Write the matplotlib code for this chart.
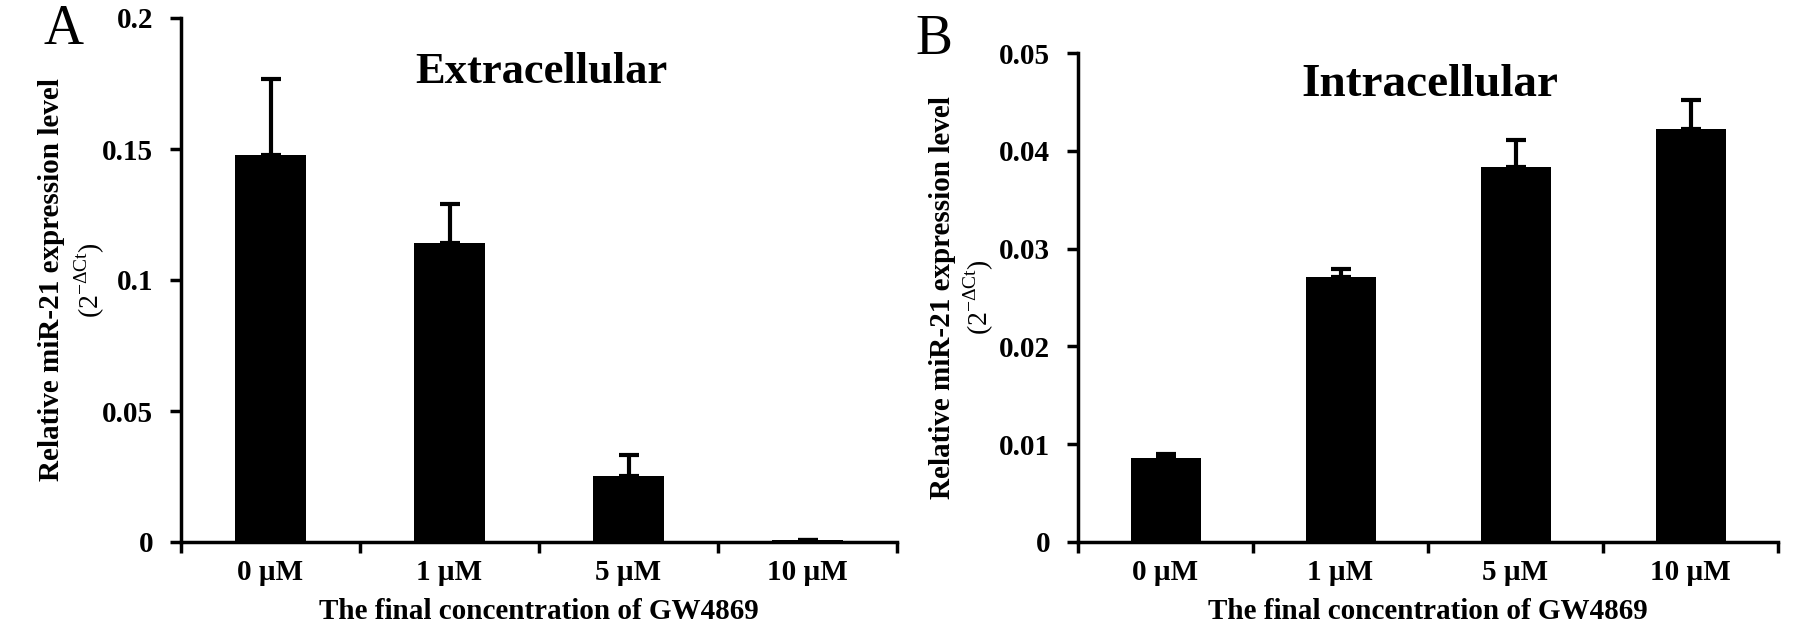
import matplotlib
matplotlib.use("Agg")
import matplotlib.pyplot as plt
import numpy as np

# données
categories = ["0 µM", "1 µM", "5 µM", "10 µM"]
extra_vals = [0.1477, 0.114, 0.0253, 0.0007]
extra_err = [0.029, 0.015, 0.008, 0.0]
intra_vals = [0.0086, 0.0271, 0.0383, 0.0422]
intra_err = [0.0004, 0.0008, 0.0028, 0.0030]

extra_ticks = [0, 0.05, 0.1, 0.15, 0.2]
extra_ticklabels = ["0", "0.05", "0.1", "0.15", "0.2"]
intra_ticks = [0, 0.01, 0.02, 0.03, 0.04, 0.05]
intra_ticklabels = ["0", "0.01", "0.02", "0.03", "0.04", "0.05"]

plt.rcParams['font.family'] = ['Liberation Serif', 'DejaVu Serif']
plt.rcParams['mathtext.fontset'] = 'custom'
plt.rcParams['mathtext.rm'] = 'Liberation Serif'

W, H = 1795, 633
fig = plt.figure(figsize=(W / 100, H / 100), dpi=100)

axA = fig.add_axes([181 / W, 1 - 542 / H, (897 - 181) / W, (542 - 18) / H])
axB = fig.add_axes([1078 / W, 1 - 542 / H, (1778 - 1078) / W, (542 - 53) / H])


def draw_panel(ax, vals, err, yticks, yticklabels, ymax, title, title_xy, title_size):
    x = np.arange(len(categories))
    ax.bar(x, vals, width=0.4, color='black', zorder=2)
    ax.errorbar(x, vals, yerr=[np.zeros(len(err)), err], fmt='none',
                ecolor='black', elinewidth=3, capsize=7, capthick=3, zorder=3)
    ax.set_xlim(-0.5, 3.5)
    ax.set_ylim(0, ymax)
    for s in ['top', 'right']:
        ax.spines[s].set_visible(False)
    for s in ['left', 'bottom']:
        ax.spines[s].set_linewidth(2.5)
    # graduations aux frontières, étiquettes au centre
    ax.set_xticks(np.arange(-0.5, 3.6, 1.0))
    ax.set_xticklabels([])
    ax.set_xticks(x, minor=True)
    ax.set_xticklabels(categories, minor=True, fontsize=21, fontweight='bold')
    ax.tick_params(axis='x', which='major', direction='out', length=8, width=2.5)
    ax.tick_params(axis='x', which='minor', length=0, pad=12)
    ax.set_yticks(yticks)
    ax.set_yticklabels(yticklabels, fontsize=21, fontweight='bold')
    ax.tick_params(axis='y', direction='out', length=8, width=2.5, pad=12)
    ax.set_xlabel("The final concentration of GW4869", fontsize=21,
                  fontweight='bold', labelpad=9)
    fig.text(title_xy[0] / W, 1 - title_xy[1] / H, title, fontsize=title_size,
             fontweight='bold', ha='center', va='center')


draw_panel(axA, extra_vals, extra_err, extra_ticks, extra_ticklabels, 0.2,
           "Extracellular", (541, 72), 32)
draw_panel(axB, intra_vals, intra_err, intra_ticks, intra_ticklabels, 0.05,
           "Intracellular", (1430, 85), 34)

# titres des axes y (deux lignes)
for xl1, xl2, ax in [(52, 90, axA), (942, 979, axB)]:
    pos = ax.get_position()
    yc = (pos.y0 + pos.y1) / 2
    fig.text(xl1 / W, yc, "Relative miR-21 expression level", rotation=90,
             fontsize=21, fontweight='bold', ha='center', va='center')
    fig.text(xl2 / W, yc, r"(2$^{\mathregular{-\Delta Ct}}$)", rotation=90,
             fontsize=20, ha='center', va='center')

fig.text(43 / W, 1 - 4 / H, "A", fontsize=40, ha='left', va='top')
fig.text(915 / W, 1 - 14 / H, "B", fontsize=40, ha='left', va='top')

fig.savefig("out.png", dpi=100)
